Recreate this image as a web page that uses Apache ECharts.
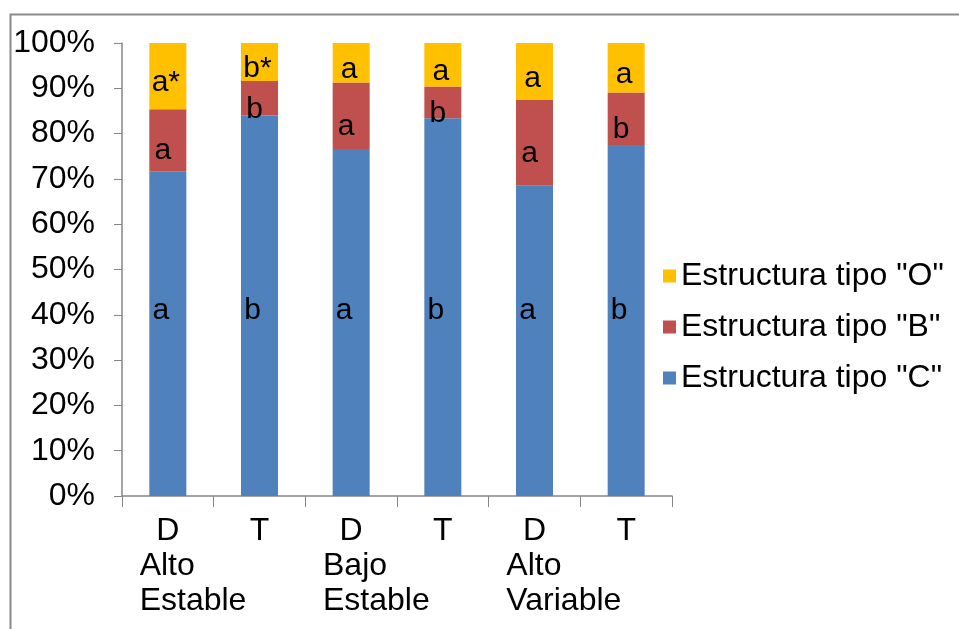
<!DOCTYPE html>
<html>
<head>
<meta charset="utf-8">
<script src="https://cdn.jsdelivr.net/npm/echarts@6/dist/echarts.min.js"></script>
<style>
html, body { margin: 0; padding: 0; background: #fff; }
#chart { width: 959px; height: 629px; }
</style>
</head>
<body>
<div id="chart"></div>
<script>
// categorias y grupos del eje x
const categories = ['D', 'T', 'D', 'T', 'D', 'T']
const groups = ['Alto\nEstable', 'Bajo\nEstable', 'Alto\nVariable']
const seriesNames = ['Estructura tipo "C"', 'Estructura tipo "B"', 'Estructura tipo "O"']

// porcentajes
const tipoC = [71.7, 84.0, 76.6, 83.4, 68.5, 77.5]
const tipoB = [13.7, 7.6, 14.7, 7.0, 18.9, 11.6]
const tipoO = [14.6, 8.4, 8.7, 9.6, 12.6, 10.9]

// letras de significancia
const letrasC = ['a', 'b', 'a', 'b', 'a', 'b']
const letrasB = ['a', 'b', 'a', 'b', 'a', 'b']
const letrasO = ['a*', 'b*', 'a', 'a', 'a', 'a']

const yTicks = [0, 10, 20, 30, 40, 50, 60, 70, 80, 90, 100]

const font = 'Liberation Sans, Arial, sans-serif'
const axisColor = '#868686'
const fs = 32

const chart = echarts.init(document.getElementById('chart'))

function barSeries(name, values, letters, color, pos, offset) {
  return {
    name: name,
    type: 'bar',
    stack: 'total',
    barWidth: 37,
    itemStyle: { color: color },
    label: {
      show: true,
      position: pos,
      offset: offset,
      color: '#000',
      fontFamily: font,
      fontSize: 30,
      formatter: function (p) { return letters[p.dataIndex] }
    },
    emphasis: { disabled: true },
    data: values
  }
}

const option = {
  backgroundColor: '#fff',
  animation: false,
  textStyle: { fontFamily: font },
  graphic: [{
    type: 'rect',
    left: 8,
    top: 12,
    shape: { width: 1000, height: 700 },
    style: { fill: 'none', stroke: '#8a8a8a', lineWidth: 2 }
  }],
  legend: {
    orient: 'vertical',
    left: 658,
    top: 255,
    itemWidth: 13,
    itemHeight: 13,
    itemGap: 19,
    icon: 'rect',
    textStyle: { fontFamily: font, fontSize: fs, color: '#000' },
    data: [seriesNames[2], seriesNames[1], seriesNames[0]]
  },
  grid: {
    left: 122,
    right: 287,
    top: 43,
    bottom: 133
  },
  xAxis: [{
    type: 'category',
    data: categories,
    axisLine: { lineStyle: { color: axisColor, width: 1.5 } },
    axisTick: { show: true, length: 11, lineStyle: { color: axisColor } },
    axisLabel: {
      color: '#000',
      fontFamily: font,
      fontSize: fs,
      margin: 19
    }
  }, {
    type: 'category',
    position: 'bottom',
    data: groups,
    axisLine: { show: false },
    axisTick: { show: false },
    axisLabel: {
      margin: 53,
      formatter: function (v) {
        return v.split('\n').map(function (s) { return '{g|' + s + '}' }).join('\n')
      },
      rich: {
        g: {
          width: 148,
          align: 'left',
          color: '#000',
          fontFamily: font,
          fontSize: fs,
          lineHeight: 35
        }
      }
    }
  }],
  yAxis: {
    type: 'value',
    min: 0,
    max: 100,
    interval: 10,
    axisLine: { show: true, lineStyle: { color: axisColor, width: 1.5 } },
    axisTick: { show: true, length: 8, lineStyle: { color: axisColor } },
    splitLine: { show: false },
    axisLabel: {
      color: '#000',
      fontFamily: font,
      fontSize: fs,
      margin: 27,
      formatter: function (v) { return yTicks.indexOf(v) >= 0 ? v + '%' : '' }
    }
  },
  series: [
    barSeries(seriesNames[0], tipoC, letrasC, '#4F81BD', 'insideBottom', [-7, -165]),
    barSeries(seriesNames[1], tipoB, letrasB, '#C0504D', 'inside', [-5, 11]),
    barSeries(seriesNames[2], tipoO, letrasO, '#FFC000', 'inside', [-2, 7])
  ]
}

chart.setOption(option)
</script>
</body>
</html>
